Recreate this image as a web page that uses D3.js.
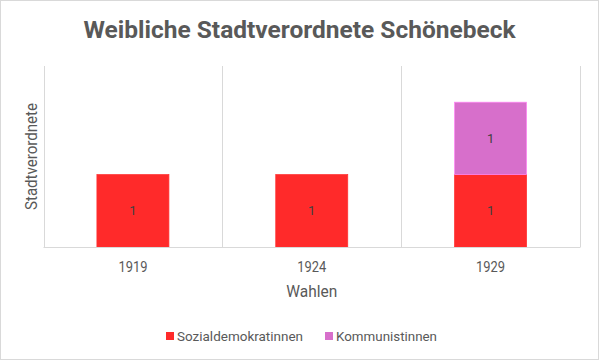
<!DOCTYPE html>
<html><head><meta charset="utf-8">
<script src="https://cdn.jsdelivr.net/npm/d3@7"></script>
<style>body{margin:0;background:#fff}svg{display:block}</style>
</head><body><svg id="c" width="599" height="360"></svg>
<script>
const categories = ["1919", "1924", "1929"];
const seriesNames = ["Sozialdemokratinnen", "Kommunistinnen"];
const sozialdemokratinnen = [1, 1, 1];
const kommunistinnen = [0, 0, 1];
const colors = ["#ff2a2a", "#d76fcb"];
const yMax = 2.5;

const FONT = "'Roboto','Liberation Sans',sans-serif";
const svg = d3.select("#c");
const W = 599, H = 360;
svg.append("rect").attr("x",0.5).attr("y",0.5).attr("width",W-1).attr("height",H-1)
  .attr("fill","#fff").attr("stroke","#d9d9d9");

const m = {left:43.5, right:580, top:66, bottom:247};
const x = d3.scaleBand().domain(categories).range([m.left, m.right]).paddingInner(0).paddingOuter(0);
const y = d3.scaleLinear().domain([0, yMax]).range([m.bottom, m.top]);

const table = categories.map((c,i)=>({cat:c, Sozialdemokratinnen:sozialdemokratinnen[i], Kommunistinnen:kommunistinnen[i]}));
const stacked = d3.stack().keys(seriesNames)(table);

// vertical grid lines at category borders
const borders = categories.map(c=>x(c)).concat([x(categories[categories.length-1])+x.bandwidth()]);
svg.append("g").selectAll("line").data(borders).join("line")
  .attr("x1",d=>Math.round(d)+0.5).attr("x2",d=>Math.round(d)+0.5)
  .attr("y1",m.top).attr("y2",m.bottom)
  .attr("stroke","#d9d9d9").attr("stroke-width",1);

const barW = 72;
const g = svg.append("g");
stacked.forEach((s,si)=>{
  g.selectAll(null).data(s.filter(d=>d[1]-d[0]>0)).join("rect")
    .attr("x",d=>x(d.data.cat)+x.bandwidth()/2-barW/2)
    .attr("y",d=>y(d[1]))
    .attr("width",barW)
    .attr("height",d=>y(d[0])-y(d[1]))
    .attr("fill",colors[si])
    .attr("stroke",d3.color(colors[si]).brighter(0.5))
    .attr("stroke-width",0.75);
  g.selectAll(null).data(s.filter(d=>d[1]-d[0]>0)).join("text")
    .attr("x",d=>x(d.data.cat)+x.bandwidth()/2)
    .attr("y",d=>(y(d[0])+y(d[1]))/2)
    .attr("dy","0.35em").attr("text-anchor","middle")
    .attr("font-family",FONT).attr("font-size",13).attr("fill","#404040")
    .text(d=>d[1]-d[0]);
});

// baseline
svg.append("line").attr("x1",m.left).attr("x2",m.right+0.5)
  .attr("y1",m.bottom+0.5).attr("y2",m.bottom+0.5).attr("stroke","#d9d9d9");

// x axis labels
const xa = svg.append("g").attr("transform",`translate(0,${m.bottom})`)
  .call(d3.axisBottom(x).tickSize(0).tickPadding(0));
xa.select(".domain").remove();
xa.selectAll("text").attr("y",25).attr("dy",0).attr("font-family",FONT).attr("font-size",14)
  .attr("fill","#595959").attr("textLength",29).attr("lengthAdjust","spacingAndGlyphs");

svg.append("text").attr("x",(m.left+m.right)/2).attr("y",297).attr("text-anchor","middle")
  .attr("font-family",FONT).attr("font-size",16).attr("fill","#595959")
  .attr("textLength",51).attr("lengthAdjust","spacingAndGlyphs").text("Wahlen");
svg.append("text").attr("transform",`translate(37,${(m.top+m.bottom)/2}) rotate(-90)`)
  .attr("text-anchor","middle").attr("font-family",FONT).attr("font-size",16).attr("fill","#595959")
  .attr("textLength",107).attr("lengthAdjust","spacingAndGlyphs")
  .text("Stadtverordnete");

svg.append("text").attr("x",W/2).attr("y",38).attr("text-anchor","middle")
  .attr("font-family",FONT).attr("font-weight","bold").attr("font-size",24).attr("fill","#595959")
  .attr("textLength",432).attr("lengthAdjust","spacingAndGlyphs")
  .text("Weibliche Stadtverordnete Schönebeck");

// legend
const lx = [166, 325];
const lw = [126, 101];
const lg = svg.append("g");
seriesNames.forEach((n,i)=>{
  lg.append("rect").attr("x",lx[i]).attr("y",332).attr("width",8).attr("height",8).attr("fill",colors[i]);
  lg.append("text").attr("x",lx[i]+11).attr("y",341)
    .attr("font-family",FONT).attr("font-size",13.5).attr("fill","#595959")
    .attr("textLength",lw[i]).attr("lengthAdjust","spacingAndGlyphs").text(n);
});
</script></body></html>
